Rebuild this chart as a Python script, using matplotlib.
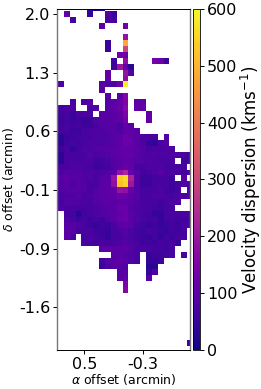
import numpy as np
import matplotlib
matplotlib.use('Agg')
import matplotlib.pyplot as plt

# velocity dispersion map, km/s per spaxel from top row to bottom, 0 = no data
sigma_rows = [
    [0]*6 + [35, 20, 40] + [0]*15,
    [0, 0, 110, 0, 0, 0, 40, 0, 0, 90, 50] + [0]*13,
    [0, 0, 0, 65, 0, 0, 0, 0, 0, 70, 65] + [0]*13,
    [0]*8 + [100, 0, 0, 0, 130] + [0]*11,
    [0]*24,
    [0]*12 + [190] + [0]*11,
    [0]*9 + [50, 0, 0, 480] + [0]*11,
    [0]*9 + [50, 0, 0, 300] + [0]*11,
    [0]*11 + [130, 120] + [0]*11,
    [0]*10 + [55, 0, 180] + [0]*4 + [140, 120, 55] + [0]*4,
    [0]*10 + [55, 200, 110, 35] + [0]*10,
    [0]*9 + [110, 0, 0, 190, 85] + [0]*10,
    [0]*9 + [110, 0, 0, 180] + [0]*11,
    [0, 75] + [0]*6 + [90, 80, 80, 130, 590] + [0]*11,
    [0]*8 + [90] + [0]*15,
    [0]*9 + [90, 0, 100, 160] + [0]*11,
    [0, 0, 0, 75, 0, 75, 90, 0, 0, 90, 100, 115, 150, 0, 105, 105] + [0]*8,
    [65, 65, 75, 75, 0, 0, 80, 85, 0, 90, 105, 120, 165, 0, 105, 105] + [0]*8,
    [65, 60, 70, 50, 75, 75, 75, 0, 90, 90, 95, 110, 150, 0, 0, 0, 110] + [0]*7,
    [60, 55, 65, 55, 60, 50, 55, 80, 90, 90, 95, 105, 135, 0, 0, 0, 110] + [0]*7,
    [65, 60, 70, 65, 70, 55, 55, 70, 90, 90, 90, 70, 110, 100] + [0]*10,
    [65, 65, 65, 55, 55, 70, 75, 80, 80, 90, 90, 80, 105, 105, 90] + [0]*9,
    [40, 35, 55, 60, 65, 70, 70, 80, 80, 80, 90, 95, 120, 110, 100, 80, 75, 70, 0, 85, 0, 0, 0, 0],
    [40, 35, 60, 70, 60, 70, 80, 80, 75, 85, 90, 100, 120, 115, 95, 75, 45, 40, 75, 85, 0, 0, 0, 0],
    [60, 55, 70, 45, 65, 80, 75, 85, 90, 90, 95, 105, 110, 110, 100, 85, 70, 75, 75, 80, 80, 0, 0, 0],
    [45, 35, 70, 70, 70, 70, 85, 75, 80, 85, 95, 105, 110, 110, 95, 85, 80, 85, 80, 80, 80, 80, 70, 65],
    [40, 35, 70, 75, 70, 75, 80, 60, 65, 75, 90, 100, 105, 100, 90, 85, 85, 80, 75, 75, 75, 0, 60, 75],
    [70, 70, 70, 80, 80, 75, 70, 55, 60, 65, 85, 100, 115, 110, 70, 70, 80, 80, 80, 70, 70, 70, 70, 0],
    [85, 80, 90, 85, 90, 80, 80, 75, 80, 90, 100, 190, 230, 120, 90, 65, 70, 80, 90, 75, 75, 70, 65, 80],
    [95, 90, 105, 90, 90, 80, 85, 70, 90, 95, 190, 540, 560, 230, 90, 55, 55, 65, 70, 70, 55, 0, 90, 0],
    [90, 85, 95, 80, 90, 85, 70, 70, 100, 105, 180, 520, 550, 200, 85, 55, 55, 70, 70, 70, 55, 70, 80, 80],
    [90, 80, 90, 90, 90, 85, 70, 85, 95, 100, 110, 190, 180, 115, 85, 70, 65, 70, 80, 65, 55, 70, 0, 90],
    [75, 70, 80, 80, 90, 75, 80, 90, 100, 100, 100, 120, 115, 100, 90, 70, 70, 75, 80, 70, 70, 80, 80, 90],
    [75, 70, 85, 85, 80, 75, 70, 85, 90, 95, 100, 110, 105, 100, 85, 70, 70, 70, 60, 70, 80, 80, 0, 0],
    [85, 80, 70, 70, 70, 65, 70, 75, 85, 90, 95, 115, 115, 90, 80, 70, 70, 60, 55, 70, 70, 0, 0, 0],
    [0, 0, 70, 65, 30, 60, 70, 80, 85, 90, 100, 110, 115, 95, 80, 70, 65, 45, 45, 70, 70, 70, 75, 80],
    [0, 0, 80, 70, 55, 70, 55, 70, 55, 80, 95, 115, 120, 100, 85, 70, 65, 65, 45, 65, 70, 65, 65, 70],
    [0, 0, 90, 90, 80, 70, 60, 45, 60, 55, 75, 95, 105, 95, 70, 60, 50, 60, 45, 55, 65, 55, 70, 75],
    [0, 0, 95, 90, 70, 70, 70, 60, 55, 45, 70, 80, 90, 75, 65, 55, 70, 65, 55, 45, 65, 60, 70, 0],
    [0, 0, 100, 70, 0, 65, 75, 65, 60, 45, 70, 70, 85, 70, 65, 55, 50, 65, 45, 65, 55, 70, 70, 0],
    [0, 0, 0, 0, 0, 75, 70, 65, 70, 70, 70, 80, 90, 80, 70, 55, 60, 55, 70, 60, 75, 45, 0, 0],
    [0]*8 + [100, 105, 95, 100, 105, 90, 70, 70, 70, 65, 65, 60, 70] + [0]*3,
    [0]*10 + [90, 95, 90, 80, 70, 0, 45, 55, 55, 65, 70, 0, 70, 0],
    [0]*8 + [65, 90, 95, 105, 90, 85, 70, 0, 40, 40, 55] + [0]*5,
    [0]*8 + [50, 80, 90, 90, 85] + [0]*3 + [30, 30] + [0]*6,
    [0]*11 + [90, 85] + [0]*3 + [45, 80] + [0]*6,
    [0]*11 + [100, 95] + [0]*3 + [90] + [0]*7,
    [0]*12 + [150] + [0]*11,
    [0]*12 + [160] + [0]*11,
    [0]*24, [0]*24, [0]*24, [0]*24, [0]*24, [0]*24, [0]*24, [0]*24,
    [0]*23 + [50],
    [0]*24,
]

x_tick_cells = [5, 15]
x_tick_labels = ['0.5', '-0.3']
y_tick_cells = [1, 11, 21, 31, 41, 51]
y_tick_labels = ['2.0', '1.3', '0.6', '-0.1', '-0.9', '-1.6']
cbar_ticks = [0, 100, 200, 300, 400, 500, 600]

W, H = 261, 389
fig = plt.figure(figsize=(W / 100, H / 100), dpi=100)
ax = fig.add_axes([57 / W, 1 - 349.7 / H, 133 / W, 340.7 / H])

sigma = np.ma.masked_equal(np.array(sigma_rows, dtype=float), 0)
im = ax.imshow(sigma, cmap='plasma', vmin=0, vmax=600, aspect='equal',
               interpolation='nearest')
ax.set_xlim(0.33, 23.0)
ax.set_ylim(58.2, 0.16)

ax.set_xticks(x_tick_cells)
ax.set_xticklabels(x_tick_labels, fontsize=11.5)
ax.set_yticks(y_tick_cells)
ax.set_yticklabels(y_tick_labels, fontsize=11.5)
ax.tick_params(length=3, width=0.7, pad=2)
ax.set_xlabel(r'$\alpha$ offset (arcmin)', fontsize=9, labelpad=0)
ax.yaxis.set_label_coords(-41 / 133, 0.5)
ax.set_ylabel(r'$\delta$ offset (arcmin)', fontsize=9)
for side in ['left', 'right']:
    ax.spines[side].set_color('#777777')
    ax.spines[side].set_linewidth(1.0)
for side in ['top', 'bottom']:
    ax.spines[side].set_linewidth(0.7)

cax = fig.add_axes([193 / W, 1 - 349.7 / H, 7 / W, 340.7 / H])
cbar = fig.colorbar(im, cax=cax)
cbar.set_ticks(cbar_ticks)
cbar.ax.tick_params(labelsize=11.5, length=3, width=0.7, pad=2)
cbar.set_label(r'Velocity dispersion (kms$^{-1}$)', fontsize=12, labelpad=1)
cbar.outline.set_linewidth(0.6)

fig.savefig('out.png', dpi=100)
